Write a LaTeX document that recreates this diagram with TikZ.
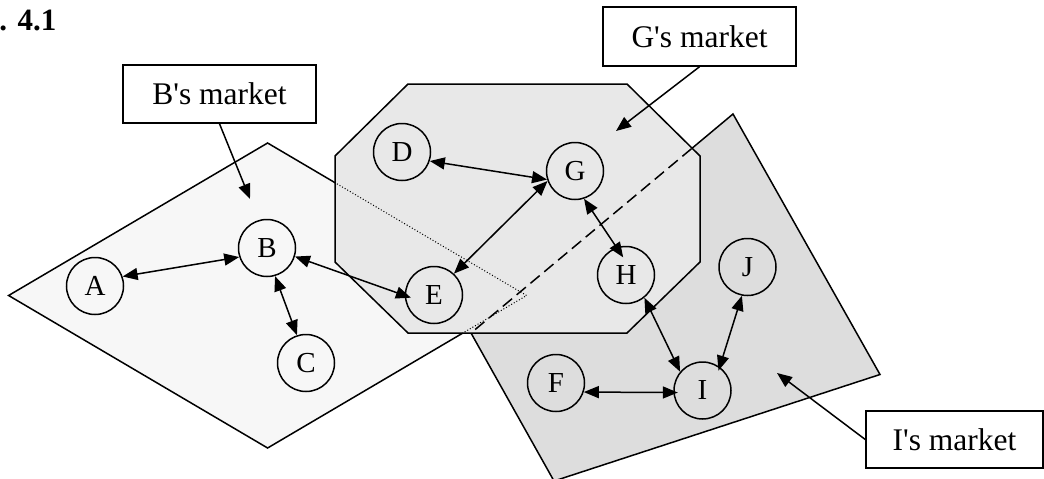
\documentclass[tikz,border=0pt]{standalone}
\usepackage{fontspec}
\setmainfont{Liberation Serif}
\usetikzlibrary{arrows.meta,calc}
\definecolor{bfill}{gray}{0.97}
\definecolor{gfill}{gray}{0.91}
\definecolor{ifill}{gray}{0.865}
\begin{document}
\begin{tikzpicture}[x=1pt,y=-1pt,
  market/.style={draw, line width=1.5pt, fill=white, minimum width=193pt,
    minimum height=58pt, inner sep=0pt, font=\fontsize{31.5}{33}\selectfont},
  firm/.style={circle, draw, line width=1.5pt, minimum size=57pt, inner sep=0pt,
    font=\fontsize{29}{30}\selectfont},
  tip/.tip={Triangle[length=15pt,width=12pt]},
  link/.style={line width=1.5pt, tip-tip},
  pointer/.style={line width=1.5pt, -tip},
  area/.style={draw, line width=1.5pt, line join=miter},
  hidden dots/.style={line width=1pt, dash pattern=on 1pt off 2pt},
  hidden dashes/.style={line width=1.5pt, dash pattern=on 12pt off 6pt},
]
\fill[white] (0,0) rectangle (1044,479);
\useasboundingbox (0,0) rectangle (1044,479);

% market areas
\path[area, fill=bfill] (8.6,295.5) -- (267.6,143) -- (526.6,295.5) -- (267.6,448) -- cycle;
\path[area, fill=ifill] (733,114) -- (880,374.5) -- (554,481) -- (471,333) -- cycle;
\path[area, fill=gfill] (408,84) -- (627,84) -- (700,156) -- (700,262)
  -- (627,333) -- (408,333) -- (335,262) -- (335,156) -- cycle;

% edges hidden under the octagon
\begin{scope}
  \clip (408,84) -- (627,84) -- (700,156) -- (700,262)
    -- (627,333) -- (408,333) -- (335,262) -- (335,156) -- cycle;
  \draw[hidden dots] (8.6,295.5) -- (267.6,143) -- (526.6,295.5) -- (267.6,448) -- cycle;
  \draw[hidden dashes] (733,114) -- (471,333);
\end{scope}

% firms
\node[firm] (A) at (95,286) {A};
\node[firm] (B) at (267,248) {B};
\node[firm] (C) at (306,363) {C};
\node[firm] (D) at (402,152) {D};
\node[firm] (E) at (434,295) {E};
\node[firm] (G) at (575,171) {G};
\node[firm] (H) at (626,275) {H};
\node[firm] (I) at (702.5,390.5) {I};
\node[firm] (J) at (747.5,267) {J};
\node[firm] (F) at (556,383) {F};

% links between firms
\draw[link] (A.19) -- (B.198);
\draw[link, shorten >=-6.5pt] (B.-17) -- (E.181);
\draw[link] (B.-74) -- (C.108);
\draw[link] (D.-18) -- (G.197);
\draw[link] (E.47) -- (G.200);
\draw[link, shorten >=-12pt] (G.-72) -- (H.109);
\draw[link] (H.-51) -- (I.140);
\draw[link, shorten >=-4pt] (J.-101) -- (I.54);
\draw[link, shorten >=-4.5pt] (F.-18) -- (I.184);

% market labels
\node[market] (bm) at (219.5,94) {B\textquotesingle s market};
\node[market, minimum height=59pt] (gm) at (699.5,36.5) {G\textquotesingle s market};
\node[market, minimum width=177pt, minimum height=57pt] (im) at (954.5,439.5) {I\textquotesingle s market};
\coordinate (bt) at (250,199);
\coordinate (gt) at (616,131);
\coordinate (it) at (777,373);
\draw[pointer] (bm.south) -- (bt);
\draw[pointer] (gm.south) -- (gt);
\draw[pointer] (im.west) -- (it);

% caption
\node[anchor=base east, inner sep=0pt, font=\bfseries\fontsize{31}{32}\selectfont] (fig) at (56.5,30) {Fig. 4.1};
\end{tikzpicture}
\end{document}
